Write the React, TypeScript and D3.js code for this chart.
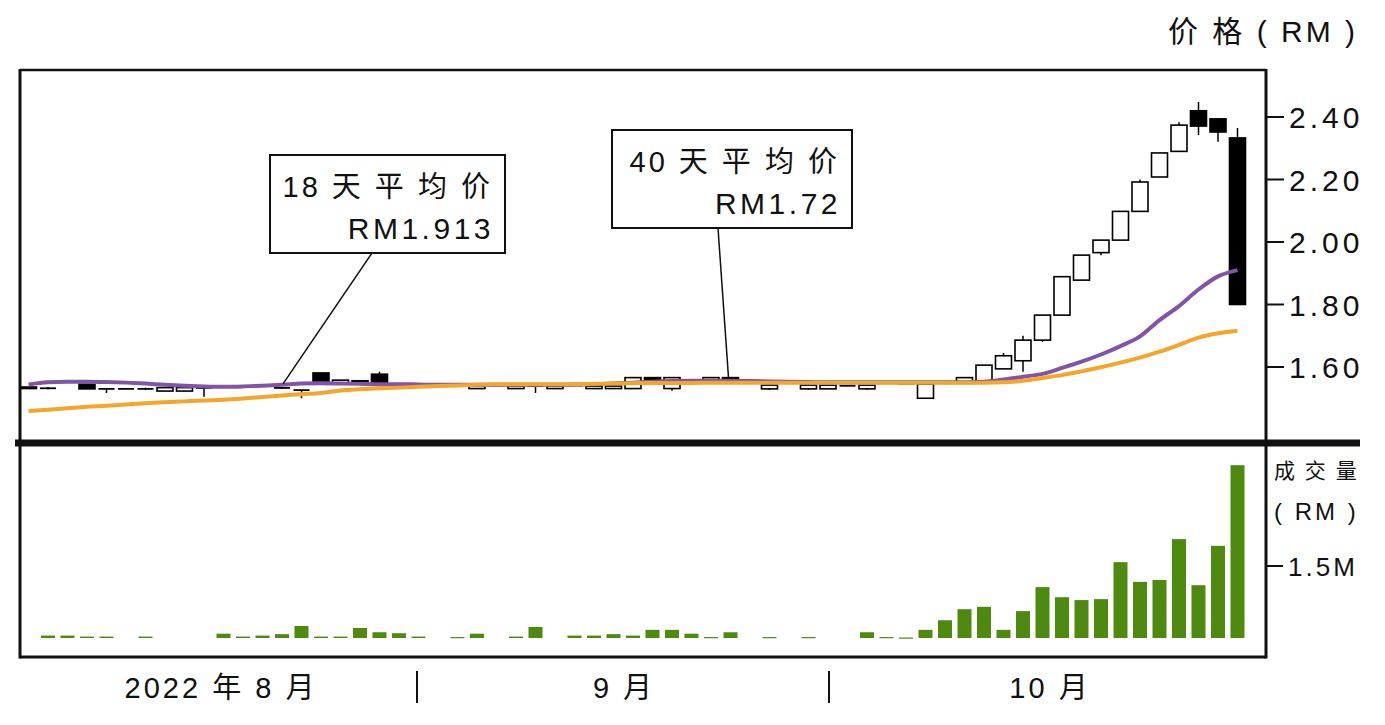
import React from "react";
import * as d3 from "d3";

// Trading-session slots (first slot = last session of July, last = latest session in October)
const sessions: number[] = d3.range(63);

const opens: (number | null)[] = [
  1.536, 1.529, null, 1.545, 1.530, 1.530, 1.530, 1.523, 1.523, 1.533,
  null, null, null, 1.533, 1.526, 1.581, 1.546, 1.556, 1.577, null,
  null, 1.545, null, 1.531, 1.541, 1.531, 1.539, 1.531, 1.541, 1.531,
  1.531, 1.531, 1.566, 1.531, null, 1.555, 1.566, null, 1.530, null,
  1.530, 1.530, 1.540, 1.530, null, 1.547, 1.500, 1.550, 1.550, 1.549,
  1.594, 1.620, 1.686, 1.766, 1.878, 1.966, 2.006, 2.098, 2.208, 2.290,
  2.420, 2.394, 2.333,
];
const closes: (number | null)[] = [
  1.531, 1.532, null, 1.530, 1.530, 1.530, 1.530, 1.534, 1.534, 1.533,
  null, null, null, 1.530, 1.526, 1.549, 1.558, 1.546, 1.546, null,
  null, 1.545, null, 1.539, 1.541, 1.539, 1.539, 1.539, 1.541, 1.539,
  1.539, 1.566, 1.556, 1.566, null, 1.566, 1.553, null, 1.542, null,
  1.542, 1.542, 1.540, 1.542, null, 1.547, 1.545, 1.550, 1.566, 1.606,
  1.636, 1.686, 1.766, 1.889, 1.958, 2.006, 2.098, 2.192, 2.285, 2.374,
  2.371, 2.352, 1.800,
];
const highs: (number | null)[] = [
  1.536, 1.536, null, 1.545, 1.530, 1.530, 1.534, 1.534, 1.534, 1.533,
  null, null, null, 1.533, 1.527, 1.581, 1.558, 1.556, 1.585, null,
  null, 1.545, null, 1.539, 1.543, 1.539, 1.539, 1.539, 1.543, 1.539,
  1.539, 1.566, 1.566, 1.566, null, 1.566, 1.566, null, 1.542, null,
  1.542, 1.542, 1.542, 1.542, null, 1.549, 1.545, 1.556, 1.566, 1.606,
  1.645, 1.700, 1.766, 1.889, 1.958, 2.006, 2.098, 2.200, 2.285, 2.383,
  2.448, 2.394, 2.365,
];
const lows: (number | null)[] = [
  1.531, 1.529, null, 1.530, 1.517, 1.530, 1.526, 1.523, 1.523, 1.505,
  null, null, null, 1.530, 1.500, 1.549, 1.546, 1.546, 1.546, null,
  null, 1.545, null, 1.531, 1.539, 1.531, 1.517, 1.531, 1.539, 1.531,
  1.531, 1.531, 1.556, 1.524, null, 1.555, 1.553, null, 1.526, null,
  1.527, 1.530, 1.538, 1.527, null, 1.545, 1.500, 1.545, 1.550, 1.549,
  1.594, 1.585, 1.680, 1.766, 1.878, 1.958, 2.006, 2.098, 2.208, 2.290,
  2.342, 2.321, 1.800,
];

// Turnover in RM million
const volumes: (number | null)[] = [
  null, 0.05, 0.05, 0.03, 0.03, null, 0.03, null, null, null,
  0.09, 0.03, 0.05, 0.08, 0.25, 0.03, 0.03, 0.21, 0.12, 0.10,
  0.03, null, 0.02, 0.09, null, 0.03, 0.23, null, 0.05, 0.05,
  0.08, 0.05, 0.17, 0.17, 0.09, 0.02, 0.12, null, 0.02, null,
  0.02, null, null, 0.12, 0.02, 0.01, 0.17, 0.37, 0.60, 0.65,
  0.17, 0.56, 1.06, 0.85, 0.79, 0.81, 1.58, 1.17, 1.21, 2.06,
  1.10, 1.92, 3.60,
];

// 18-day moving average
const ma18: number[] = [
  1.544, 1.551, 1.553, 1.553, 1.552, 1.550, 1.547, 1.543, 1.540, 1.538,
  1.537, 1.538, 1.540, 1.543, 1.547, 1.548, 1.547, 1.546, 1.545, 1.545,
  1.544, 1.543, 1.543, 1.543, 1.543, 1.543, 1.543, 1.543, 1.544, 1.545,
  1.547, 1.550, 1.553, 1.555, 1.556, 1.556, 1.556, 1.555, 1.554, 1.553,
  1.552, 1.551, 1.551, 1.551, 1.551, 1.551, 1.551, 1.551, 1.551, 1.553,
  1.560, 1.569, 1.578, 1.597, 1.617, 1.640, 1.667, 1.698, 1.750, 1.795,
  1.848, 1.890, 1.910,
];
// 40-day moving average
const ma40: number[] = [
  1.459, 1.463, 1.468, 1.473, 1.476, 1.480, 1.484, 1.487, 1.490, 1.493,
  1.495, 1.499, 1.504, 1.509, 1.513, 1.517, 1.525, 1.529, 1.532, 1.534,
  1.537, 1.539, 1.541, 1.543, 1.545, 1.545, 1.545, 1.545, 1.545, 1.546,
  1.547, 1.548, 1.549, 1.549, 1.549, 1.550, 1.550, 1.550, 1.550, 1.550,
  1.550, 1.550, 1.550, 1.550, 1.550, 1.550, 1.550, 1.550, 1.550, 1.550,
  1.551, 1.556, 1.565, 1.574, 1.586, 1.599, 1.614, 1.630, 1.649, 1.671,
  1.694, 1.708, 1.716,
];

const priceTicks = [2.4, 2.2, 2.0, 1.8, 1.6];
const volTicks = [1.5];
const monthLabels = ["2022 年 8 月", "9 月", "10 月"];
const monthCenters = [221, 624, 1050];
const monthSeparators = [417, 829];

const FONT = "'Liberation Sans', Arial, 'Noto Sans CJK SC', sans-serif";

export default function App() {
  const x = d3.scalePoint<number>().domain(sessions).range([28.5, 1237.5]);
  const yP = d3.scaleLinear().domain([1.6, 2.4]).range([367, 117]);
  const yV = d3.scaleLinear().domain([0, 1.5]).range([638, 566]);

  const candleW = 16;
  const volW = 14;

  const maLine = d3
    .line<number>()
    .x((_, i) => x(sessions[i])!)
    .y((d) => yP(d))
    .curve(d3.curveMonotoneX);

  const left = 20;
  const right = 1266;
  const top = 70;
  const sepY = 443;
  const bottom = 657;

  return (
    <svg
      width={1385}
      height={725}
      style={{ position: "absolute", left: 0, top: 0, background: "#fff" }}
      fontFamily={FONT}
    >
      <defs>
        <clipPath id="priceClip">
          <rect x={left} y={top} width={right - left} height={sepY - top} />
        </clipPath>
      </defs>

      {/* candles */}
      <g clipPath="url(#priceClip)">
        {sessions.map((s, i) => {
          const o = opens[i];
          const c = closes[i];
          const h = highs[i];
          const l = lows[i];
          if (o == null || c == null || h == null || l == null) return null;
          const cx = x(s)!;
          const up = c >= o;
          const yTop = yP(Math.max(o, c));
          const yBot = yP(Math.min(o, c));
          const bodyH = Math.max(yBot - yTop, 0);
          return (
            <g key={i}>
              <line x1={cx} x2={cx} y1={yP(h)} y2={yP(l)} stroke="#000" strokeWidth={1.5} />
              {bodyH < 1.5 ? (
                <line x1={cx - candleW / 2} x2={cx + candleW / 2} y1={yTop} y2={yTop} stroke="#000" strokeWidth={1.8} />
              ) : (
                <rect
                  x={cx - candleW / 2}
                  y={yTop}
                  width={candleW}
                  height={bodyH}
                  fill={up ? "#fff" : "#000"}
                  stroke="#000"
                  strokeWidth={1.6}
                />
              )}
            </g>
          );
        })}
        <path d={maLine(ma18) || ""} fill="none" stroke="#8253a6" strokeWidth={4} />
        <path d={maLine(ma40) || ""} fill="none" stroke="#f4a52a" strokeWidth={4} />
      </g>

      {/* volume bars */}
      <g>
        {sessions.map((s, i) => {
          const v = volumes[i];
          if (v == null) return null;
          const cx = x(s)!;
          const yTopV = yV(v);
          return (
            <rect
              key={i}
              x={cx - volW / 2}
              y={yTopV}
              width={volW}
              height={Math.max(yV(0) - yTopV, 1.2)}
              fill="#4e8a10"
            />
          );
        })}
      </g>

      {/* frame */}
      <line x1={left} x2={right} y1={top} y2={top} stroke="#111" strokeWidth={2.5} />
      <line x1={left} x2={left} y1={top - 1} y2={bottom + 1.5} stroke="#111" strokeWidth={3} />
      <line x1={right} x2={right} y1={top - 1} y2={bottom + 1.5} stroke="#111" strokeWidth={3} />
      <line x1={left} x2={right} y1={bottom} y2={bottom} stroke="#111" strokeWidth={3} />
      <line x1={15} x2={1360} y1={sepY} y2={sepY} stroke="#111" strokeWidth={7} />

      {/* price axis */}
      {priceTicks.map((t) => (
        <g key={t}>
          <line x1={right} x2={right + 18} y1={yP(t)} y2={yP(t)} stroke="#111" strokeWidth={2} />
          <text x={1289} y={yP(t) + 11} fontSize={30} letterSpacing={4} fill="#111">
            {t.toFixed(2)}
          </text>
        </g>
      ))}
      <text x={1358} y={42} fontSize={30} textAnchor="end" letterSpacing={3} fill="#111">
        价 格 ( RM )
      </text>

      {/* volume axis */}
      <text x={1274} y={478} fontSize={21} letterSpacing={2} fill="#111">
        成 交 量
      </text>
      <text x={1274} y={520} fontSize={24} letterSpacing={3} fill="#111">
        ( RM )
      </text>
      {volTicks.map((t) => (
        <g key={t}>
          <line x1={right} x2={right + 17} y1={yV(t)} y2={yV(t)} stroke="#111" strokeWidth={2} />
          <text x={1288} y={yV(t) + 10} fontSize={26} letterSpacing={3} fill="#111">
            {`${t}M`}
          </text>
        </g>
      ))}

      {/* month labels */}
      {monthLabels.map((m, i) => (
        <text key={m} x={monthCenters[i]} y={698} fontSize={29} textAnchor="middle" letterSpacing={3} fill="#111">
          {m}
        </text>
      ))}
      {monthSeparators.map((sx) => (
        <line key={sx} x1={sx} x2={sx} y1={671} y2={703} stroke="#111" strokeWidth={2} />
      ))}

      {/* callout 18-day */}
      <line x1={372} y1={253} x2={x(13)! + 1} y2={yP(ma18[13]) - 1} stroke="#111" strokeWidth={1.5} />
      <rect x={270} y={155} width={235} height={98} fill="#fff" stroke="#111" strokeWidth={2} />
      <text x={493} y={197} fontSize={29} textAnchor="end" letterSpacing={3} fill="#111">
        18 天 平 均 价
      </text>
      <text x={494} y={239} fontSize={30} textAnchor="end" letterSpacing={3.5} fill="#111">
        RM1.913
      </text>

      {/* callout 40-day */}
      <line x1={718} y1={228} x2={x(36)! - 2} y2={yP(ma40[36]) - 5} stroke="#111" strokeWidth={1.5} />
      <rect x={612} y={130} width={240} height={98} fill="#fff" stroke="#111" strokeWidth={2} />
      <text x={840} y={172} fontSize={29} textAnchor="end" letterSpacing={3} fill="#111">
        40 天 平 均 价
      </text>
      <text x={841} y={214} fontSize={30} textAnchor="end" letterSpacing={3.5} fill="#111">
        RM1.72
      </text>
    </svg>
  );
}
